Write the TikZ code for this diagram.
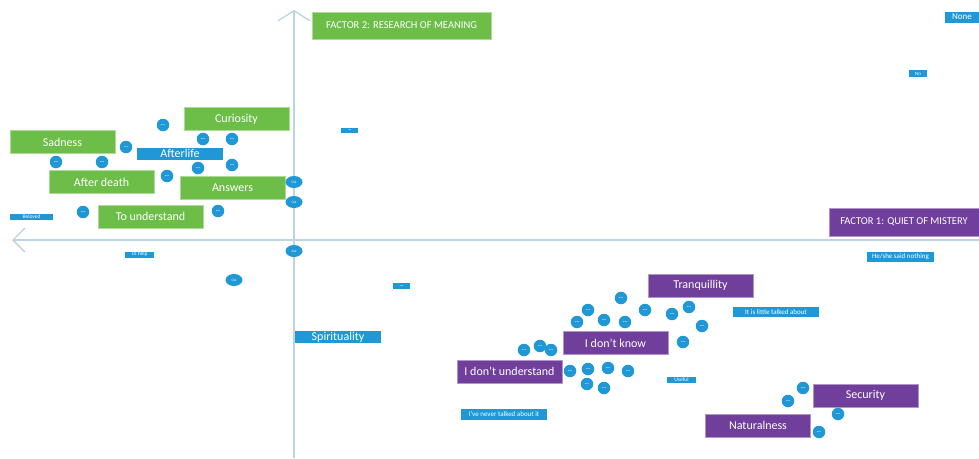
\documentclass[tikz,border=0pt]{standalone}
\usepackage{fontspec}
\setmainfont{Carlito}
\usetikzlibrary{shapes.geometric,arrows.meta}
\definecolor{axgray}{RGB}{186,212,226}
\definecolor{fgreen}{RGB}{108,190,72}
\definecolor{fblue}{RGB}{32,152,214}
\definecolor{fpurple}{RGB}{112,62,155}

\begin{document}
\begin{tikzpicture}[x=1pt,y=-1pt,
    axis/.style={axgray, line width=1.3pt},
    gbox/.style={fill=fgreen, draw=fgreen!55!white, text=white, inner sep=0pt,
        minimum width=105pt, minimum height=23pt, font=\fontsize{12}{12}\selectfont},
    pbox/.style={gbox, fill=fpurple, draw=fpurple!55!white},
    btag/.style={fill=fblue, text=white, inner sep=0pt, font=\fontsize{7}{7}\selectfont},
    dot/.style={circle, fill=fblue, text=white, inner sep=0pt, minimum size=12.5pt,
        font=\fontsize{5.5}{5.5}\bfseries},
    oval/.style={ellipse, fill=fblue, text=white, inner sep=0pt, minimum width=17pt,
        minimum height=12pt, font=\fontsize{3.5}{3.5}\selectfont}]
\useasboundingbox (0,0) rectangle (979,458);

% Axes
\coordinate (xstart) at (979,240);
\coordinate (xtip) at (12,240);
\coordinate (ystart) at (294,458);
\coordinate (ytip) at (294,10);
\draw[axis, -{Straight Barb[length=12pt,width=24pt]}] (xstart) -- (xtip);
\draw[axis, -{Straight Barb[length=10pt,width=32pt]}] (ystart) -- (ytip);

% Factor 2 side
\node[gbox, minimum width=179pt, minimum height=27pt, font=\fontsize{10.5}{10.5}\selectfont]
    (factorB) at (401.5,25.5) {FACTOR 2: RESEARCH OF MEANING};
\node[gbox] (curiosity) at (236.5,119) {Curiosity};
\node[gbox] (sadness) at (62.5,142) {Sadness};
\node[gbox] (afterdeath) at (101.5,182) {After death};
\node[gbox] (answers) at (232.5,188) {Answers};
\node[gbox] (understand) at (150.5,216.5) {To understand};
\node[btag, minimum width=86pt, minimum height=12pt, font=\fontsize{12}{12}\selectfont]
    (afterlife) at (180,153.5) {Afterlife};

\foreach \x/\y [count=\i] in {163/125,126/147,56/162,102/162,203/139,232/139,
    198/168,232/165,167/176,83/212,218/211} {
    \node[dot] (gdot\i) at (\x,\y) {...};
}

% Factor 1 side
\node[pbox, minimum width=150pt, minimum height=28pt, font=\fontsize{10.5}{10.5}\selectfont]
    (factorA) at (904,222) {FACTOR 1: QUIET OF MISTERY};
\node[pbox] (tranquillity) at (700.5,285.5) {Tranquillity};
\node[pbox] (dontknow) at (615.5,343) {I don’t know};
\node[pbox] (dontunderstand) at (509.5,371.5) {I don’t understand};
\node[pbox] (security) at (865.5,395.5) {Security};
\node[pbox] (naturalness) at (758,425.5) {Naturalness};

\foreach \x/\y [count=\i] in {621/298,588/310,577/322,604/320,625/322,645/310,
    672/314,689/307,702/326,683/342,524/350,540/346,551/350,570/371,588/369,
    608/368,628/371,587/384,604/388,803/388,788/401,838/414,819/432} {
    \node[dot] (pdot\i) at (\x,\y) {...};
}

% Small tags
\node[btag, minimum width=86pt, minimum height=12pt, font=\fontsize{12}{12}\selectfont]
    (spirituality) at (338,337) {Spirituality};
\node[btag, minimum width=34pt, minimum height=11pt, font=\fontsize{9}{9}\selectfont]
    (none) at (962,17) {None};
\node[btag, minimum width=18pt, minimum height=7pt, font=\fontsize{5}{5}\selectfont]
    (no) at (918,73.5) {No};
\node[btag, minimum width=43pt, minimum height=6pt, font=\fontsize{5.5}{5.5}\selectfont]
    (beloved) at (31.5,216.5) {Beloved};
\node[btag, minimum width=29pt, minimum height=6pt, font=\fontsize{5.5}{5.5}\selectfont]
    (tohelp) at (139.5,254.5) {To help};
\node[btag, minimum width=29pt, minimum height=6pt, font=\fontsize{5.5}{5.5}\selectfont]
    (useful) at (681.5,380) {Useful};
\node[btag, minimum width=17pt, minimum height=5pt, font=\fontsize{5}{5}\bfseries]
    (tagA) at (349.5,130.5) {...};
\node[btag, minimum width=17pt, minimum height=6pt, font=\fontsize{5}{5}\bfseries]
    (tagB) at (401.5,286) {...};
\node[btag, minimum width=67pt, minimum height=10pt] (saidnothing) at (900.5,257) {He/she said nothing};
\node[btag, minimum width=86pt, minimum height=10pt] (littletalked) at (776,312) {It is little talked about};
\node[btag, minimum width=86pt, minimum height=11pt] (nevertalked) at (504,414.5) {I’ve never talked about it};

% Ovals on the axes
\node[oval] (ovalA) at (294,182) {Oui};
\node[oval] (ovalB) at (294,202) {Oui};
\node[oval] (ovalC) at (294,251) {Oui};
\node[oval] (ovalD) at (234,280) {Oui};
\end{tikzpicture}
\end{document}
